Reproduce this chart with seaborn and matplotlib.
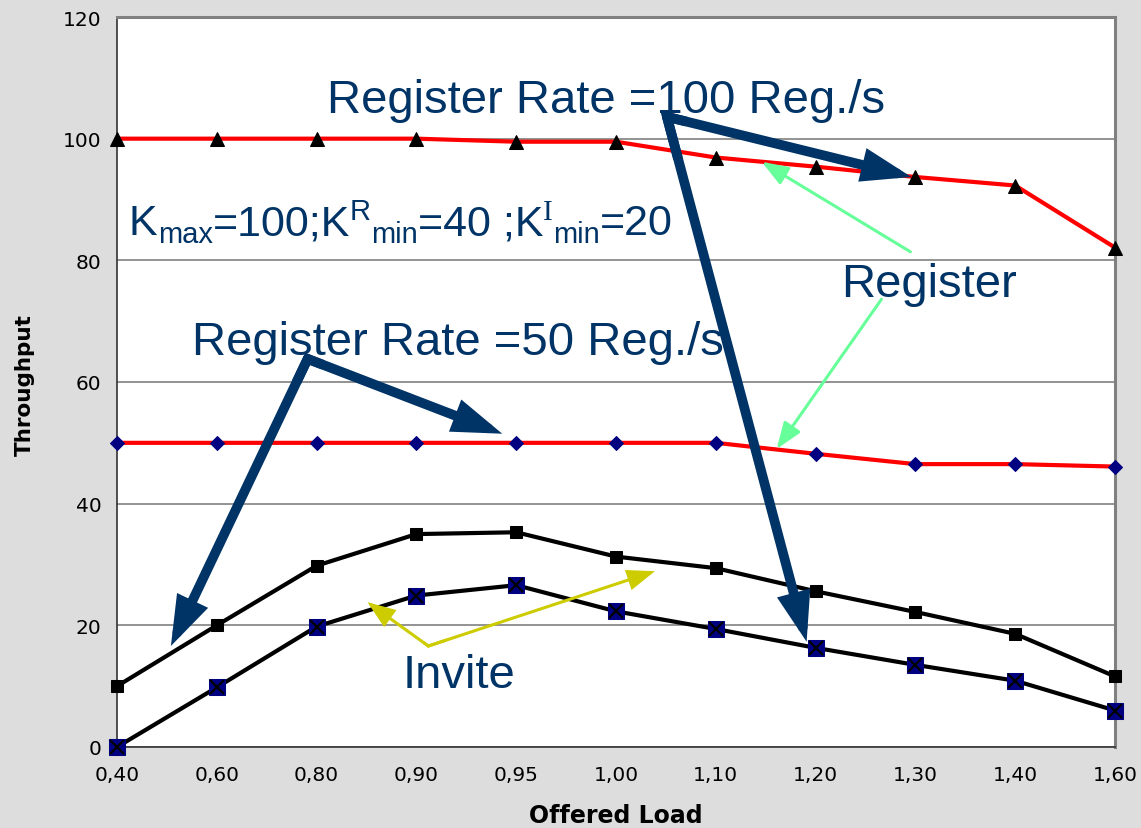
import matplotlib
matplotlib.use("Agg")
import matplotlib.pyplot as plt
import seaborn as sns
import numpy as np

# Offered load categories (evenly spaced on the axis)
loads = ["0,40", "0,60", "0,80", "0,90", "0,95", "1,00", "1,10", "1,20", "1,30", "1,40", "1,60"]

# Throughput series
register_100 = [100, 100, 100, 100, 99.5, 99.5, 96.9, 95.4, 93.7, 92.3, 82.1]
register_50 = [50, 50, 50, 50, 50, 50, 50, 48.2, 46.5, 46.5, 46.1]
invite_100 = [10, 20, 29.8, 35, 35.3, 31.3, 29.4, 25.6, 22.2, 18.6, 11.6]
invite_50 = [0, 9.8, 19.8, 24.9, 26.6, 22.3, 19.4, 16.3, 13.5, 10.9, 6.0]

y_ticks = [0, 20, 40, 60, 80, 100, 120]

sns.set_theme(style="white")
plt.rcParams["font.family"] = ["DejaVu Sans"]

NAVY = "#003366"
GRID = "#808080"
SANS = "Liberation Sans"

fig = plt.figure(figsize=(11.41, 8.29), dpi=100, facecolor="#DDDDDD")
ax = fig.add_axes([117 / 1141, 81 / 829, 998 / 1141, 730 / 829])
ax.set_facecolor("white")

xpos = np.arange(len(loads))

sns.lineplot(x=xpos, y=register_100, ax=ax, color="#FF0000", lw=3,
             marker="^", ms=9.5, mfc="black", mec="black", clip_on=False, zorder=4)
sns.lineplot(x=xpos, y=register_50, ax=ax, color="#FF0000", lw=3,
             marker="D", ms=7.5, mfc="#000080", mec="#000080", clip_on=False, zorder=4)
sns.lineplot(x=xpos, y=invite_100, ax=ax, color="black", lw=3,
             marker="s", ms=8, mfc="black", mec="black", clip_on=False, zorder=4)
sns.lineplot(x=xpos, y=invite_50, ax=ax, color="black", lw=3,
             marker="s", ms=12, mfc="#000080", mec="#000080", clip_on=False, zorder=4)
ax.plot(xpos, invite_50, ls="none", marker="x", ms=10, mew=1.5,
        color="black", clip_on=False, zorder=5)

ax.set_xlim(0, len(loads) - 1)
ax.set_ylim(0, 120)
ax.set_xticks(xpos)
ax.set_xticklabels(loads)
ax.set_yticks(y_ticks)
ax.yaxis.grid(True, color=GRID, lw=1.2)
ax.set_axisbelow(True)

ax.tick_params(axis="both", direction="out", length=5, width=1, color="#333333",
               labelsize=14.5, labelcolor="black")
ax.tick_params(axis="x", pad=8)
ax.tick_params(axis="y", pad=6)

for side in ["top", "right"]:
    ax.spines[side].set_color(GRID)
    ax.spines[side].set_linewidth(2.2)
for side in ["left", "bottom"]:
    ax.spines[side].set_color("#333333")
    ax.spines[side].set_linewidth(1.2)

ax.set_xlabel("Offered Load", fontsize=17, fontweight="bold", color="black")
ax.set_ylabel("Throughput", fontsize=15.5, fontweight="bold", color="black")
ax.xaxis.set_label_coords(0.5, -0.077)
ax.yaxis.set_label_coords(-0.082, 0.497)

# Annotation texts
big = dict(color=NAVY, fontsize=34, family=SANS, va="baseline", ha="left", zorder=6)
ax.text(2.10, 104.4, "Register Rate =100 Reg./s", **big)
ax.text(0.75, 64.6, "Register Rate =50 Reg./s", **big)
ax.text(7.26, 74.1, "Register", **big)
ax.text(2.86, 9.9, "Invite", **big)

# Parameter line set piece by piece so sub/superscripts sit tight to their letters
param_pieces = [
    ("K", 31, 0, SANS),
    ("max", 21, -8, SANS),
    ("=100;K", 31, 0, SANS),
    ("R", 21, 15, SANS),
    ("min", 21, -8, SANS),
    ("=40 ;K", 31, 0, SANS),
    ("I", 21, 15, "Liberation Serif"),
    ("min", 21, -8, SANS),
    ("=20", 31, 0, SANS),
]
fig.canvas.draw()
renderer = fig.canvas.get_renderer()
px0, py0 = ax.transData.transform((0.12, 84.3))
cursor = px0
for piece, size, dy, fam in param_pieces:
    t = fig.text(cursor / fig.bbox.width, (py0 + dy) / fig.bbox.height, piece,
                 fontsize=size, family=fam, color=NAVY, va="baseline", ha="left", zorder=6)
    cursor += t.get_window_extent(renderer).width


def forked_arrow(vertex, tips, color, lw, hl, hw, ms):
    """Two arrows sharing a common start point, joined with a mitred corner."""
    vx, vy = vertex
    for tx, ty in tips:
        ax.annotate("", xy=(tx, ty), xytext=(vx, vy),
                    arrowprops=dict(arrowstyle=f"-|>,head_length={hl},head_width={hw}",
                                    lw=lw, color=color, shrinkA=0, shrinkB=0,
                                    mutation_scale=ms, joinstyle="miter"),
                    annotation_clip=False, zorder=7)
    (ax1, ay1), (ax2, ay2) = tips
    f = 0.08
    ax.plot([vx + f * (ax1 - vx), vx, vx + f * (ax2 - vx)],
            [vy + f * (ay1 - vy), vy, vy + f * (ay2 - vy)],
            color=color, lw=lw, solid_joinstyle="miter", solid_capstyle="butt", zorder=7)


forked_arrow((5.51, 103.6), [(7.96, 93.7), (6.91, 17.3)], NAVY, 7, 2.2, 0.75, 10)
forked_arrow((1.91, 63.8), [(0.54, 16.6), (3.86, 51.5)], NAVY, 7, 2.2, 0.75, 10)
forked_arrow((3.12, 16.6), [(2.51, 23.8), (5.39, 28.9)], "#CCCC00", 2.2, 1.6, 0.6, 10)

for start, tip in [((7.95, 81.4), (6.46, 96.2)), ((7.66, 73.6), (6.61, 49.0))]:
    ax.annotate("", xy=tip, xytext=start,
                arrowprops=dict(arrowstyle="-|>,head_length=1.6,head_width=0.6",
                                lw=2.2, color="#66FF99", shrinkA=0, shrinkB=0,
                                mutation_scale=10),
                annotation_clip=False, zorder=6)

fig.savefig("out.png", dpi=100, facecolor=fig.get_facecolor())
